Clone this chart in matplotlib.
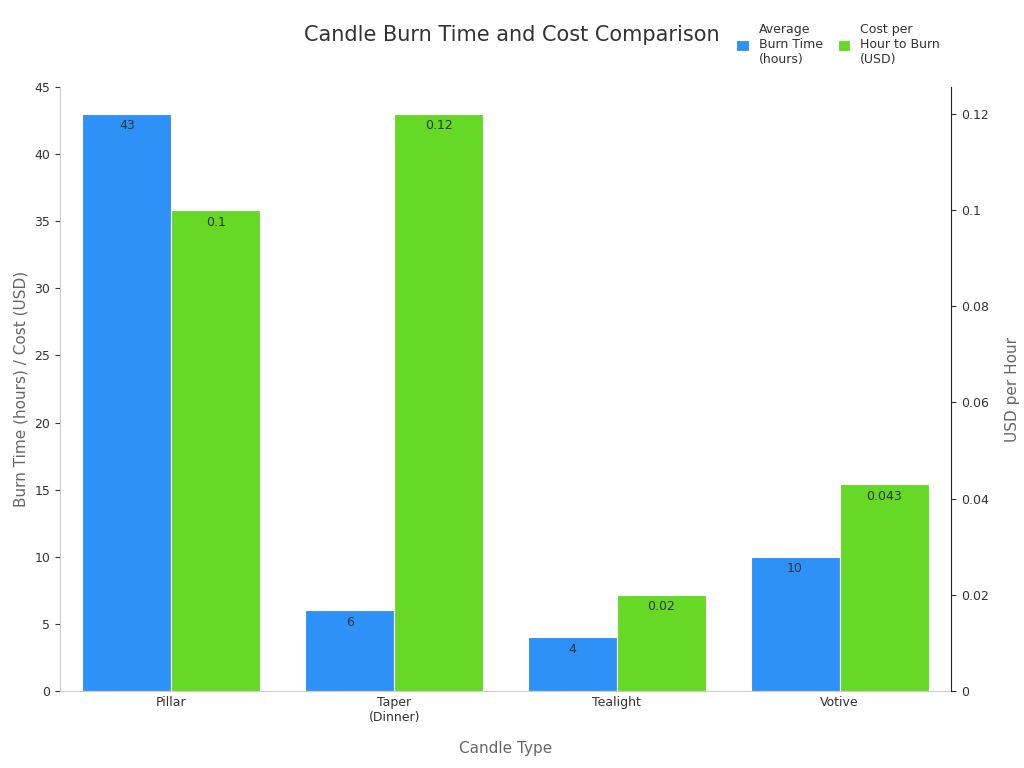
import numpy as np
import matplotlib.pyplot as plt

categories = ["Pillar", "Taper\n(Dinner)", "Tealight", "Votive"]
burn_hours = [43, 6, 4, 10]
cost_per_hour = [0.1, 0.12, 0.02, 0.043]
burn_labels = ["43", "6", "4", "10"]
cost_labels = ["0.1", "0.12", "0.02", "0.043"]

blue = "#2E91F8"
green = "#66D926"
txt = "#333333"

fig = plt.figure(figsize=(10.24, 7.68), dpi=100)
ax = fig.add_axes([60/1024, 1-691/768, 891/1024, 604/768])
ax2 = ax.twinx()

x = np.arange(len(categories))
w = 0.4
b1 = ax.bar(x - w/2, burn_hours, w, color=blue, edgecolor="white", linewidth=0.8,
            label="Average\nBurn Time\n(hours)")
b2 = ax2.bar(x + w/2, cost_per_hour, w, color=green, edgecolor="white", linewidth=0.8,
             label="Cost per\nHour to Burn\n(USD)")

for r, t in zip(b1, burn_labels):
    ax.annotate(t, (r.get_x() + r.get_width()/2, r.get_height()), xytext=(0, -4),
                textcoords="offset points", ha="center", va="top", fontsize=9, color=txt)
for r, t in zip(b2, cost_labels):
    ax2.annotate(t, (r.get_x() + r.get_width()/2, r.get_height()), xytext=(0, -4),
                 textcoords="offset points", ha="center", va="top", fontsize=9, color=txt)

ax.set_xlim(-0.5, 3.5)
ax.set_ylim(0, 45)
ax2.set_ylim(0, 0.12 * 45 / 43)
ax.set_yticks(range(0, 46, 5))
ax2.set_yticks([0, 0.02, 0.04, 0.06, 0.08, 0.1, 0.12])
ax2.set_yticklabels(["0", "0.02", "0.04", "0.06", "0.08", "0.1", "0.12"])
ax.set_xticks(x)
ax.set_xticklabels(categories, fontsize=9, color=txt)
ax.tick_params(axis="y", labelsize=9, colors=txt)
ax2.tick_params(axis="y", labelsize=9, colors=txt)
ax.tick_params(axis="x", length=0)

for a in (ax, ax2):
    a.spines["top"].set_visible(False)
    a.spines["left"].set_color("#cccccc")
    a.spines["bottom"].set_color("#cccccc")
    a.spines["right"].set_color("#222222")
ax.spines["right"].set_visible(False)
ax2.spines["left"].set_visible(False)
ax2.spines["bottom"].set_visible(False)

ax.set_xlabel("Candle Type", fontsize=11, color="#666666", labelpad=12)
ax.set_ylabel("Burn Time (hours) / Cost (USD)", fontsize=11, color="#666666")
ax2.set_ylabel("USD per Hour", fontsize=11, color="#666666", labelpad=12)

fig.text(512/1024, 1-35/768, "Candle Burn Time and Cost Comparison", ha="center",
         va="center", fontsize=15, color="#333333")

h1, l1 = ax.get_legend_handles_labels()
h2, l2 = ax2.get_legend_handles_labels()
fig.legend(h1 + h2, l1 + l2, loc="upper left", bbox_to_anchor=(725/1024, 1-12/768),
           ncol=2, frameon=False, fontsize=9, handlelength=1, handleheight=1,
           columnspacing=1.2, labelcolor=txt)

fig.savefig("out.png", dpi=100)
